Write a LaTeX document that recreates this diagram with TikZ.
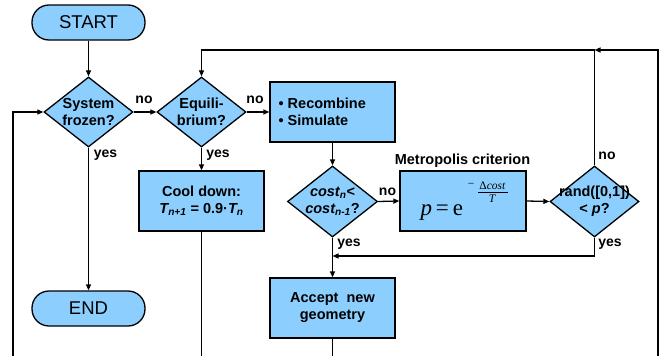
\documentclass[tikz,border=0pt]{standalone}
\usepackage[no-math]{fontspec}
\setmainfont{Liberation Sans}
\newfontfamily\tms{Liberation Serif}
\usetikzlibrary{shapes.geometric,arrows.meta}
\definecolor{boxblue}{RGB}{140,207,255}
\begin{document}
\begin{tikzpicture}[x=1pt,y=-1pt,
  line width=1.3pt,
  term/.style={draw, fill=boxblue, rounded corners=17pt, minimum width=113pt, minimum height=35pt, inner sep=0pt, font=\fontsize{18.5}{20}\selectfont},
  dia/.style={draw, fill=boxblue, diamond, inner sep=0pt},
  proc/.style={draw, fill=boxblue, rectangle, inner sep=0pt, minimum width=125pt, minimum height=60pt},
  txt/.style={font=\fontsize{14.5}{17}\selectfont\bfseries, align=center, inner sep=0pt},
  lbl/.style={font=\fontsize{14}{16}\selectfont\bfseries, inner sep=0pt},
  frm/.style={font=\tms\fontsize{11.5}{12}\selectfont, inner sep=0pt},
  arr/.style={-{Triangle[length=6pt,width=5pt]}},
]
\fill[white] (0,0) rectangle (671,356);
\useasboundingbox (0,0) rectangle (671,356);

% nodes
\node[term] (start) at (88.5,22.5) {START};
\node[dia, minimum width=89pt, minimum height=70pt] (d1) at (88.5,112) {};
\node[txt] (t1) at (d1) {System\\frozen?};
\node[dia, minimum width=89pt, minimum height=70pt] (d2) at (201.5,112) {};
\node[txt] (t2) at (d2) {Equili-\\brium?};
\node[proc] (rs) at (332.5,112) {};
\node[txt, align=left, anchor=west] (t3) at (278,112) {• Recombine\\• Simulate};
\node[proc] (cool) at (201.5,201) {};
\node[txt] (t4) at (cool) {Cool down:\\\textit{T\textsubscript{n+1}} = 0.9·\textit{T\textsubscript{n}}};
\node[dia, minimum width=90pt, minimum height=71pt] (d3) at (332.5,201.5) {};
\node[txt] (t5) at (d3) {\textit{cost\textsubscript{n}}<\\\textit{cost\textsubscript{n-1}}?};
\node[proc, minimum width=126pt] (met) at (463,201) {};
% formula
\node[inner sep=0pt, anchor=base west, font=\tms\fontsize{23}{25}\selectfont] (f) at (420,215) {\textit{p}\,=\,e};
\node[frm] (fm) at (471,185.5) {−};
\node[frm] (fn) at (492.5,186) {Δ\textit{cost}};
\node[frm] (fd) at (492.5,198.5) {\textit{T}};
\draw[line width=0.6pt] (477.5,192.7) -- (507.5,192.7);
\node[dia, minimum width=89pt, minimum height=71pt] (d4) at (594.5,201.5) {};
\node[txt] (t6) at (d4) {rand([0,1])\\< \textit{p}?};
\node[proc] (acc) at (332.5,308) {};
\node[txt] (t7) at (acc) {Accept\ \ new\\geometry};
\node[term] (end) at (88.5,308.5) {END};

% labels
\node[txt] (metlbl) at (462.5,161) {Metropolis criterion};
\node[lbl] (n1) at (144,100) {no};
\node[lbl] (n2) at (255,100) {no};
\node[lbl] (y1) at (105.5,155) {yes};
\node[lbl] (y2) at (218,155) {yes};
\node[lbl] (n3) at (387.5,192) {no};
\node[lbl] (y3) at (349,244) {yes};
\node[lbl] (y4) at (610,244) {yes};
\node[lbl] (n4) at (607,156) {no};

% coordinates
\coordinate (topL) at (201.5,50);
\coordinate (jn) at (594.5,50);
\coordinate (botR) at (658,356);
\coordinate (botL) at (13,356);
\coordinate (botC) at (201.5,356);
\coordinate (botA) at (332.5,356);
\coordinate (yj) at (332.5,256);

% connectors
\draw[arr] (start) -- (d1);
\draw[arr] (d1.east) -- (d2.west);
\draw[arr] (d2.east) -- (rs.west);
\draw[arr] (d2.south) -- (cool.north);
\draw[arr] (d1.south) -- (end.north);
\draw[arr] (rs.south) -- (d3.north);
\draw[arr] (d3.east) -- (met.west);
\draw[arr] (met.east) -- (d4.west);
\draw[arr] (d3.south) -- (acc.north);
\draw[arr] (d4.south) |- (yj);
\draw[arr] (d4.north) |- (topL) -- (d2.north);
\draw[arr] (botR) |- (jn);
\draw[arr] (botL) |- (d1.west);
\draw (cool.south) -- (botC);
\draw (acc.south) -- (botA);
\end{tikzpicture}
\end{document}
